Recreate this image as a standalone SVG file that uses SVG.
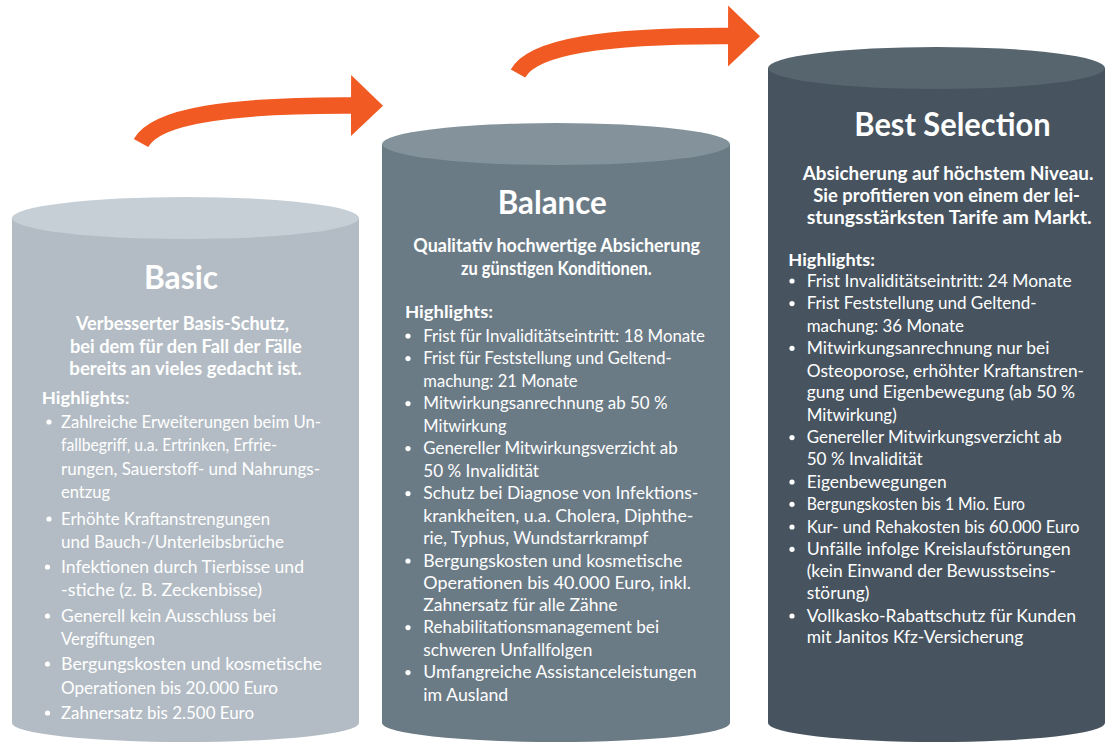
<svg xmlns="http://www.w3.org/2000/svg" width="1107" height="743" viewBox="0 0 1107 743">
<defs>
<style>
text{font-family:Lato,"Liberation Sans",sans-serif;fill:#ffffff}
.title{font-size:32px;font-weight:700}
.sub{font-size:18px;font-weight:700}
.hl{font-size:17.5px;font-weight:700}
.b{font-size:17.8px;font-weight:400}
.dot{fill:#ffffff}
.arrow{fill:none;stroke:#f15a22;stroke-width:16.5}
.basic-body{fill:#b3bcc4}.basic-top{fill:#c6cfd6}
.bal-body{fill:#6b7b86}.bal-top{fill:#84939b}
.best-body{fill:#47545f}.best-top{fill:#57656f}
</style>
<marker id="head" markerUnits="userSpaceOnUse" markerWidth="34" markerHeight="62" viewBox="0 0 34 62" refX="1" refY="30.5" orient="auto">
<path d="M0,0 L32,30.5 L0,61 Z" fill="#f15a22"/>
</marker>
</defs>
<rect width="1107" height="743" fill="#ffffff"/>

<g id="basic">
<path class="basic-body" d="M12,218 L12,723 A173.5,19 0 0 0 359,723 L359,218 Z"/>
<ellipse class="basic-top" cx="185.5" cy="218" rx="173.5" ry="21"/>
<text class="title" x="144" y="289" textLength="74" lengthAdjust="spacingAndGlyphs">Basic</text>
<text class="sub" x="76" y="330" textLength="213" lengthAdjust="spacingAndGlyphs">Verbesserter Basis-Schutz,</text>
<text class="sub" x="70" y="352.5" textLength="231.7" lengthAdjust="spacingAndGlyphs">bei dem für den Fall der Fälle</text>
<text class="sub" x="69.3" y="375" textLength="232.3" lengthAdjust="spacingAndGlyphs">bereits an vieles gedacht ist.</text>
<text class="hl" x="41.7" y="404" textLength="87.7" lengthAdjust="spacingAndGlyphs">Highlights:</text>
<circle class="dot" cx="49" cy="422" r="2.6"/>
<text class="b" x="61" y="428" textLength="260" lengthAdjust="spacingAndGlyphs">Zahlreiche Erweiterungen beim Un-</text>
<text class="b" x="61" y="451" textLength="216" lengthAdjust="spacingAndGlyphs">fallbegriff, u.a. Ertrinken, Erfrie-</text>
<text class="b" x="61" y="475" textLength="259" lengthAdjust="spacingAndGlyphs">rungen, Sauerstoff- und Nahrungs-</text>
<text class="b" x="61" y="498" textLength="49" lengthAdjust="spacingAndGlyphs">entzug</text>
<circle class="dot" cx="49" cy="519" r="2.6"/>
<text class="b" x="61" y="525" textLength="209" lengthAdjust="spacingAndGlyphs">Erhöhte Kraftanstrengungen</text>
<text class="b" x="61" y="548" textLength="223" lengthAdjust="spacingAndGlyphs">und Bauch-/Unterleibsbrüche</text>
<circle class="dot" cx="47.5" cy="567" r="2.6"/>
<text class="b" x="61" y="573" textLength="243" lengthAdjust="spacingAndGlyphs">Infektionen durch Tierbisse und</text>
<text class="b" x="61" y="596" textLength="201" lengthAdjust="spacingAndGlyphs">-stiche (z. B. Zeckenbisse)</text>
<circle class="dot" cx="47.5" cy="616" r="2.6"/>
<text class="b" x="61" y="622" textLength="215" lengthAdjust="spacingAndGlyphs">Generell kein Ausschluss bei</text>
<text class="b" x="61" y="645" textLength="94" lengthAdjust="spacingAndGlyphs">Vergiftungen</text>
<circle class="dot" cx="47.5" cy="664" r="2.6"/>
<text class="b" x="61" y="670" textLength="261" lengthAdjust="spacingAndGlyphs">Bergungskosten und kosmetische</text>
<text class="b" x="61" y="694" textLength="217" lengthAdjust="spacingAndGlyphs">Operationen bis 20.000 Euro</text>
<circle class="dot" cx="47.5" cy="713" r="2.6"/>
<text class="b" x="61" y="719" textLength="193" lengthAdjust="spacingAndGlyphs">Zahnersatz bis 2.500 Euro</text>
</g>

<g id="balance">
<path class="bal-body" d="M382,144 L382,723 A174,19 0 0 0 730,723 L730,144 Z"/>
<ellipse class="bal-top" cx="556" cy="144" rx="174" ry="21"/>
<text class="title" x="497.7" y="214" textLength="109" lengthAdjust="spacingAndGlyphs">Balance</text>
<text class="sub" x="413.3" y="251.5" textLength="286.7" lengthAdjust="spacingAndGlyphs">Qualitativ hochwertige Absicherung</text>
<text class="sub" x="461" y="274.5" textLength="190.7" lengthAdjust="spacingAndGlyphs">zu günstigen Konditionen.</text>
<text class="hl" x="405" y="317.5" textLength="88" lengthAdjust="spacingAndGlyphs">Highlights:</text>
<circle class="dot" cx="408" cy="336" r="2.6"/>
<text class="b" x="423.3" y="341.7" textLength="281.7" lengthAdjust="spacingAndGlyphs">Frist für Invaliditätseintritt: 18 Monate</text>
<circle class="dot" cx="408" cy="358.6" r="2.6"/>
<text class="b" x="423.3" y="364.3" textLength="248.3" lengthAdjust="spacingAndGlyphs">Frist für Feststellung und Geltend-</text>
<text class="b" x="423.3" y="386.7" textLength="154.3" lengthAdjust="spacingAndGlyphs">machung: 21 Monate</text>
<circle class="dot" cx="408" cy="403.6" r="2.6"/>
<text class="b" x="423.3" y="409.3" textLength="244.3" lengthAdjust="spacingAndGlyphs">Mitwirkungsanrechnung ab 50 %</text>
<text class="b" x="423.3" y="431.7" textLength="83.3" lengthAdjust="spacingAndGlyphs">Mitwirkung</text>
<circle class="dot" cx="408" cy="448.6" r="2.6"/>
<text class="b" x="423.3" y="454.3" textLength="254.3" lengthAdjust="spacingAndGlyphs">Genereller Mitwirkungsverzicht ab</text>
<text class="b" x="423.3" y="476.7" textLength="115.7" lengthAdjust="spacingAndGlyphs">50 % Invalidität</text>
<circle class="dot" cx="408" cy="493.6" r="2.6"/>
<text class="b" x="423.3" y="499.3" textLength="275" lengthAdjust="spacingAndGlyphs">Schutz bei Diagnose von Infektions-</text>
<text class="b" x="423.3" y="522" textLength="270" lengthAdjust="spacingAndGlyphs">krankheiten, u.a. Cholera, Diphthe-</text>
<text class="b" x="423.3" y="544.3" textLength="225" lengthAdjust="spacingAndGlyphs">rie, Typhus, Wundstarrkrampf</text>
<circle class="dot" cx="408" cy="561" r="2.6"/>
<text class="b" x="423.3" y="566.7" textLength="259" lengthAdjust="spacingAndGlyphs">Bergungskosten und kosmetische</text>
<text class="b" x="423.3" y="589" textLength="267.7" lengthAdjust="spacingAndGlyphs">Operationen bis 40.000 Euro, inkl.</text>
<text class="b" x="423.3" y="611" textLength="194.3" lengthAdjust="spacingAndGlyphs">Zahnersatz für alle Zähne</text>
<circle class="dot" cx="408" cy="627.6" r="2.6"/>
<text class="b" x="423.3" y="633.3" textLength="235.7" lengthAdjust="spacingAndGlyphs">Rehabilitationsmanagement bei</text>
<text class="b" x="423.3" y="656" textLength="169" lengthAdjust="spacingAndGlyphs">schweren Unfallfolgen</text>
<circle class="dot" cx="408" cy="672.6" r="2.6"/>
<text class="b" x="423.3" y="678.3" textLength="273.3" lengthAdjust="spacingAndGlyphs">Umfangreiche Assistanceleistungen</text>
<text class="b" x="423.3" y="700.7" textLength="85" lengthAdjust="spacingAndGlyphs">im Ausland</text>
</g>

<g id="best-selection">
<path class="best-body" d="M768,68 L768,723 A168.5,19 0 0 0 1105,723 L1105,68 Z"/>
<ellipse class="best-top" cx="936.5" cy="68" rx="168.5" ry="21"/>
<text class="title" x="854.3" y="136" textLength="196.3" lengthAdjust="spacingAndGlyphs">Best Selection</text>
<text class="sub" x="802.7" y="179.5" textLength="290.7" lengthAdjust="spacingAndGlyphs">Absicherung auf höchstem Niveau.</text>
<text class="sub" x="813.3" y="201.7" textLength="266.7" lengthAdjust="spacingAndGlyphs">Sie profitieren von einem der lei-</text>
<text class="sub" x="806.7" y="224.3" textLength="285" lengthAdjust="spacingAndGlyphs">stungsstärksten Tarife am Markt.</text>
<text class="hl" x="788.3" y="266" textLength="86.7" lengthAdjust="spacingAndGlyphs">Highlights:</text>
<circle class="dot" cx="792" cy="281" r="2.6"/>
<text class="b" x="806.7" y="286.7" textLength="265" lengthAdjust="spacingAndGlyphs">Frist Invaliditätseintritt: 24 Monate</text>
<circle class="dot" cx="792" cy="303.6" r="2.6"/>
<text class="b" x="806.7" y="309.3" textLength="230" lengthAdjust="spacingAndGlyphs">Frist Feststellung und Geltend-</text>
<text class="b" x="806.7" y="331.7" textLength="157.3" lengthAdjust="spacingAndGlyphs">machung: 36 Monate</text>
<circle class="dot" cx="792" cy="348.3" r="2.6"/>
<text class="b" x="806.7" y="354" textLength="242.7" lengthAdjust="spacingAndGlyphs">Mitwirkungsanrechnung nur bei</text>
<text class="b" x="806.7" y="376.7" textLength="277.3" lengthAdjust="spacingAndGlyphs">Osteoporose, erhöhter Kraftanstren-</text>
<text class="b" x="806.7" y="398.3" textLength="268.3" lengthAdjust="spacingAndGlyphs">gung und Eigenbewegung (ab 50 %</text>
<text class="b" x="806.7" y="421" textLength="90" lengthAdjust="spacingAndGlyphs">Mitwirkung)</text>
<circle class="dot" cx="792" cy="437.6" r="2.6"/>
<text class="b" x="806.7" y="443.3" textLength="255" lengthAdjust="spacingAndGlyphs">Genereller Mitwirkungsverzicht ab</text>
<text class="b" x="806.7" y="465" textLength="116" lengthAdjust="spacingAndGlyphs">50 % Invalidität</text>
<circle class="dot" cx="792" cy="482" r="2.6"/>
<text class="b" x="806.7" y="487.7" textLength="140" lengthAdjust="spacingAndGlyphs">Eigenbewegungen</text>
<circle class="dot" cx="792" cy="504.3" r="2.6"/>
<text class="b" x="806.7" y="510" textLength="218.3" lengthAdjust="spacingAndGlyphs">Bergungskosten bis 1 Mio. Euro</text>
<circle class="dot" cx="792" cy="527" r="2.6"/>
<text class="b" x="806.7" y="532.7" textLength="272.7" lengthAdjust="spacingAndGlyphs">Kur- und Rehakosten bis 60.000 Euro</text>
<circle class="dot" cx="792" cy="549.3" r="2.6"/>
<text class="b" x="806.7" y="555" textLength="264" lengthAdjust="spacingAndGlyphs">Unfälle infolge Kreislaufstörungen</text>
<text class="b" x="806.7" y="576.7" textLength="249.3" lengthAdjust="spacingAndGlyphs">(kein Einwand der Bewusstseins-</text>
<text class="b" x="806.7" y="599.3" textLength="62.7" lengthAdjust="spacingAndGlyphs">störung)</text>
<circle class="dot" cx="792" cy="616" r="2.6"/>
<text class="b" x="806.7" y="621.7" textLength="269.3" lengthAdjust="spacingAndGlyphs">Vollkasko-Rabattschutz für Kunden</text>
<text class="b" x="806.7" y="643.3" textLength="216.7" lengthAdjust="spacingAndGlyphs">mit Janitos Kfz-Versicherung</text>
</g>

<g id="connectors">
<path class="arrow" d="M141,143 C156,116 230,105 352,105.5" marker-end="url(#head)"/>
<path class="arrow" d="M518,73.5 C533,46.5 607,35.5 729,36" marker-end="url(#head)"/>
</g>
</svg>
